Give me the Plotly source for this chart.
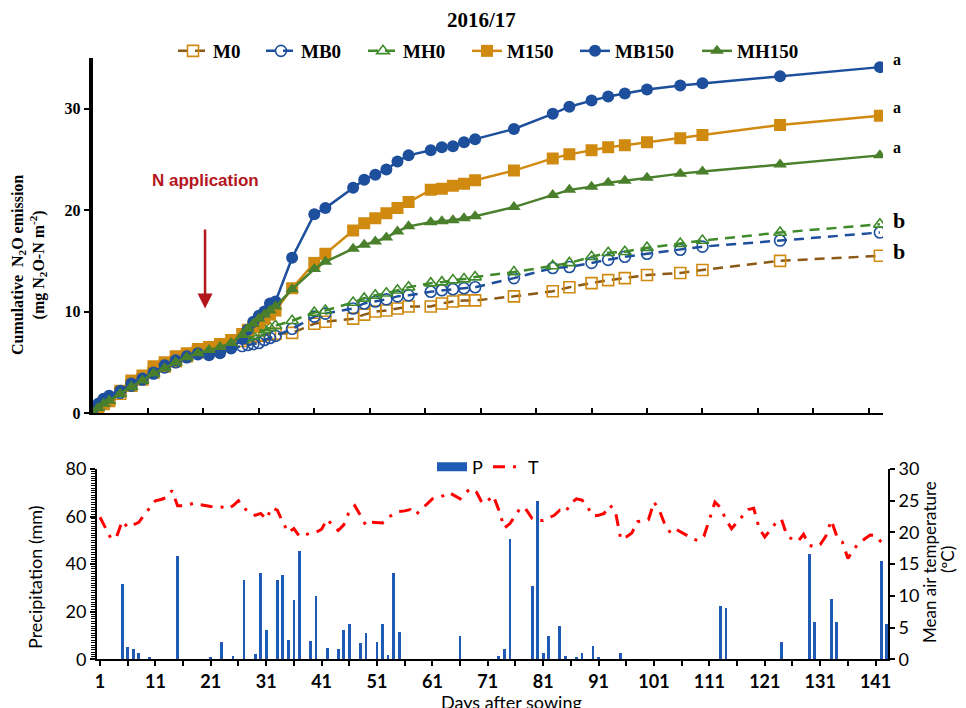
import plotly.graph_objects as go

# ---------------- data: cumulative N2O (top panel) ----------------
days = [0, 1, 2, 3, 5, 7, 9, 11, 13, 15, 17, 19, 21, 23, 25, 27, 28, 29, 30, 31, 32, 33, 36,
        40, 42, 47, 49, 51, 53, 55, 57, 61, 63, 65, 67, 69, 76, 83, 86, 90, 93, 96, 100,
        106, 110, 124, 142]

M0 = [0.1, 0.5, 0.9, 1.2, 1.9, 2.7, 3.3, 4.0, 4.6, 5.1, 5.6, 6.0, 6.2, 6.5, 6.8, 7.1, 7.3,
      7.5, 7.6, 7.7, 7.8, 7.8, 7.9, 8.8, 9.0, 9.3, 9.7, 10.0, 10.1, 10.3, 10.5, 10.5, 10.8,
      11.0, 11.1, 11.1, 11.5, 12.0, 12.4, 12.8, 13.1, 13.3, 13.6, 13.8, 14.1, 15.0, 15.5]
MB0 = [0.2, 0.6, 1.0, 1.3, 2.0, 2.7, 3.3, 3.9, 4.5, 5.0, 5.5, 5.8, 6.0, 6.2, 6.4, 6.6, 6.7,
       6.8, 6.9, 7.2, 7.4, 7.6, 8.3, 9.5, 9.8, 10.3, 10.8, 11.0, 11.2, 11.5, 11.6, 11.95,
       12.1, 12.2, 12.3, 12.4, 13.3, 14.3, 14.4, 14.8, 15.1, 15.4, 15.7, 16.1, 16.4, 17.0, 17.8]
MH0 = [0.1, 0.5, 0.9, 1.2, 1.9, 2.6, 3.2, 3.9, 4.5, 5.0, 5.5, 5.9, 6.2, 6.5, 6.8, 7.2, 7.4,
       7.6, 7.9, 8.2, 8.4, 8.6, 9.1, 9.9, 10.1, 10.9, 11.3, 11.6, 11.8, 12.1, 12.4, 12.8,
       12.9, 13.1, 13.2, 13.4, 13.9, 14.5, 14.8, 15.4, 15.8, 15.9, 16.3, 16.7, 17.0, 17.8, 18.6]
M150 = [0.2, 0.6, 1.0, 1.3, 2.2, 3.2, 3.7, 4.6, 5.0, 5.6, 5.9, 6.3, 6.5, 6.8, 7.2, 7.8, 8.2,
        8.5, 8.9, 9.3, 9.7, 10.1, 12.3, 14.8, 15.7, 18.0, 18.7, 19.2, 19.7, 20.2, 20.8, 22.0,
        22.1, 22.4, 22.6, 22.95, 23.9, 25.1, 25.5, 25.9, 26.2, 26.4, 26.7, 27.1, 27.4, 28.4, 29.3]
MB150 = [0.3, 0.9, 1.4, 1.7, 2.2, 2.9, 3.4, 4.0, 4.7, 5.2, 5.6, 5.9, 5.7, 5.9, 6.4, 7.3, 8.2,
         9.0, 9.6, 10.0, 10.8, 11.0, 15.3, 19.6, 20.2, 22.2, 23.0, 23.5, 24.0, 24.8, 25.4, 25.9,
         26.2, 26.3, 26.7, 27.0, 28.0, 29.5, 30.2, 30.8, 31.2, 31.5, 31.9, 32.3, 32.5, 33.2, 34.1]
MH150 = [0.1, 0.5, 0.9, 1.2, 1.9, 2.6, 3.2, 3.9, 4.4, 5.0, 5.5, 5.9, 6.2, 6.5, 6.9, 7.7, 8.3,
         8.8, 9.3, 9.7, 10.1, 10.5, 12.2, 14.2, 14.9, 16.2, 16.6, 16.9, 17.3, 17.9, 18.4, 18.8,
         18.9, 19.0, 19.2, 19.4, 20.3, 21.5, 22.0, 22.3, 22.7, 22.9, 23.2, 23.6, 23.8, 24.5, 25.4]

letters = ["a", "a", "a", "b", "b"]

# ---------------- data: weather (bottom panel) ----------------
p_days = [5, 6, 7, 8, 10, 15, 21, 23, 25, 27, 29, 30, 31, 33, 34, 35, 36, 37, 39, 40, 42, 44,
          45, 46, 48, 49, 51, 52, 53, 54, 55, 66, 73, 74, 75, 79, 80, 81, 82, 84, 85, 87, 88,
          90, 91, 95, 113, 114, 124, 129, 130, 133, 134, 142, 143]
p_mm = [31.8, 5.3, 4.2, 2.5, 1.1, 43.5, 0.8, 7.4, 1.5, 33.5, 2.2, 36.4, 12.3, 33.5, 35.6, 8.1,
        24.8, 45.7, 7.8, 26.5, 4.9, 4.2, 12.3, 14.8, 6.7, 11.1, 7.4, 14.8, 1.7, 36.4, 11.6, 9.9,
        1.5, 4.2, 50.6, 30.7, 66.4, 2.5, 9.9, 14.1, 1.5, 0.8, 2.5, 5.7, 1.1, 2.5, 22.3, 21.6,
        7.4, 44.2, 15.7, 25.5, 15.7, 41.3, 14.8]

t_days = list(range(1, 144))
t_mean = [22.4, 20.8, 19.0, 19.3, 21.8, 20.8, 21.2, 21.6, 22.8, 24.0,
          25.0, 25.2, 25.5, 26.6, 24.2, 24.2, 24.4, 24.6, 24.4, 24.2,
          24.1, 24.0, 24.0, 23.7, 24.2, 25.0, 23.8, 23.2, 22.7, 23.0,
          22.1, 23.9, 23.5, 21.6, 20.0, 20.6, 19.4, 19.6, 19.9, 20.0,
          20.5, 22.1, 21.1, 20.3, 21.2, 23.3, 24.2, 22.7, 21.1, 21.6,
          21.5, 21.5, 22.4, 22.9, 23.3, 23.4, 23.6, 22.8, 23.6, 24.5,
          25.3, 25.5, 25.8, 26.3, 25.8, 25.3, 26.3, 26.9, 26.3, 24.6,
          25.0, 25.8, 23.5, 20.7, 21.4, 22.7, 24.0, 23.5, 22.2, 21.9,
          21.9, 22.3, 22.7, 23.5, 23.2, 24.6, 25.3, 25.1, 24.0, 22.6,
          22.7, 23.0, 24.3, 23.5, 18.9, 19.3, 19.9, 21.7, 21.9, 22.0,
          24.8, 23.4, 21.2, 19.9, 20.5, 20.0, 19.5, 19.0, 18.7, 19.4,
          22.0, 24.8, 23.9, 22.0, 20.6, 21.6, 22.5, 23.6, 23.8, 20.6,
          19.3, 20.5, 21.5, 22.1, 19.5, 18.9, 18.6, 19.7, 18.0, 17.7,
          18.1, 19.4, 21.9, 19.4, 18.5, 15.9, 17.3, 18.3, 18.9, 19.6,
          19.5, 18.5, 17.8]

x_label_vals = list(range(1, 144, 10))

# ---------------- styling ----------------
# the page body has an 8px margin; the figure fills the rest of the 966x708 window
OFF = 8
W, H = 958, 700
SERIF = "Liberation Serif"
SANS = "Lato"
ORANGE = "#D08A10"
BROWN = "#8C5A14"
BLUE = "#1D4F9C"
GREEN0 = "#3F8A2B"
GREEN = "#4A7F2C"
RED = "#B3161B"


def fx(p):
    return (p - OFF) / W


def fy(p):
    return 1 - (p - OFF) / H


fig = go.Figure()

series = [
    ("M0", M0, BROWN, ORANGE, "square-open", "10px,7px", "legend"),
    ("MB0", MB0, BLUE, BLUE, "circle-open", "10px,7px", "legend2"),
    ("MH0", MH0, GREEN0, GREEN0, "triangle-up-open", "10px,7px", "legend3"),
    ("M150", M150, ORANGE, ORANGE, "square", "solid", "legend4"),
    ("MB150", MB150, BLUE, BLUE, "circle", "solid", "legend5"),
    ("MH150", MH150, GREEN, GREEN, "triangle-up", "solid", "legend6"),
]
for name, vals, lc, mc, sym, dash, lg in series:
    is_open = sym.endswith("open")
    fig.add_trace(go.Scatter(
        x=days, y=vals, name=name, mode="lines+markers", legend=lg,
        line=dict(color=lc, width=2.5, dash=dash),
        marker=dict(symbol=sym, size=11 if is_open else 12, color=mc,
                    line=dict(width=1.6 if is_open else 0, color=mc)),
        xaxis="x", yaxis="y",
    ))

# bottom panel
fig.add_trace(go.Bar(x=p_days, y=p_mm, width=0.5, marker=dict(color="#1F5BB5", line=dict(width=0)),
                     xaxis="x2", yaxis="y2", showlegend=False, name="P"))
fig.add_trace(go.Scatter(x=[None], y=[None], mode="lines", name="P", legend="legend7",
                         line=dict(color="#1F5BB5", width=9), xaxis="x2", yaxis="y2"))
fig.add_trace(go.Scatter(x=t_days, y=t_mean, mode="lines", name="T", legend="legend7",
                         line=dict(color="#FF0000", width=3, dash="12px,8px,3px,8px"),
                         xaxis="x2", yaxis="y3"))

leg_font = dict(family=SERIF, size=19, color="black", weight="bold")
leg_x = [178, 266, 368, 472, 580, 702]
legends = {}
for i, lx in enumerate(leg_x):
    key = "legend" if i == 0 else "legend%d" % (i + 1)
    legends[key] = dict(x=fx(lx - 5), y=fy(51), xanchor="left", yanchor="middle",
                        orientation="h", font=leg_font, bgcolor="rgba(0,0,0,0)",
                        borderwidth=0, itemwidth=30)
legends["legend7"] = dict(x=fx(432), y=fy(467), xanchor="left", yanchor="middle",
                          orientation="h", font=dict(family=SANS, size=18, color="black"),
                          bgcolor="rgba(0,0,0,0)", borderwidth=0, itemwidth=30)

C = dict(xanchor="center", yanchor="middle")
annotations = [
    dict(text="<b>2016/17</b>", x=fx(481), y=fy(20), xref="paper", yref="paper",
         showarrow=False, font=dict(family=SERIF, size=21, color="black"), **C),
    dict(text="<b>N application</b>", x=20.3, y=10.3, xref="x", yref="y",
         ax=0, ay=-128, showarrow=True, arrowhead=2, arrowsize=1.2, arrowwidth=2.5,
         arrowcolor=RED, startstandoff=38,
         font=dict(family="Liberation Sans", size=17, color=RED)),
    dict(text="<b>Cumulative  N<sub>2</sub>O emission<br>(mg N<sub>2</sub>O-N m<sup>-2</sup>)</b>",
         x=fx(29), y=fy(265), xref="paper", yref="paper", showarrow=False, textangle=-90,
         font=dict(family=SERIF, size=16, color="black"), **C),
    dict(text="Precipitation (mm)", x=fx(35), y=fy(577), xref="paper", yref="paper",
         showarrow=False, textangle=-90, font=dict(family=SANS, size=18, color="black"), **C),
    dict(text="Mean air temperature", x=fx(929), y=fy(562), xref="paper", yref="paper",
         showarrow=False, textangle=-90, font=dict(family=SANS, size=17, color="black"), **C),
    dict(text="(ºC)", x=fx(947), y=fy(560), xref="paper", yref="paper",
         showarrow=False, textangle=-90, font=dict(family=SANS, size=17, color="black"), **C),
    dict(text="Days after sowing", x=fx(511), y=fy(702), xref="paper", yref="paper",
         showarrow=False, font=dict(family=SANS, size=18, color="black"), **C),
]
letter_y = [MB150[-1], M150[-1], MH150[-1], MH0[-1], M0[-1]]
for i, (lt, yv) in enumerate(zip(letters, letter_y)):
    big = lt == "b"
    annotations.append(dict(text="<b>%s</b>" % lt, x=days[-1], y=yv + (0.4 if big else 0.8),
                            xref="x", yref="y", xshift=19 if big else 17, showarrow=False,
                            font=dict(family=SERIF, size=22 if big else 16, color="black"), **C))

fig.update_layout(
    width=W, height=H, margin=dict(l=0, r=0, t=0, b=0, autoexpand=False),
    paper_bgcolor="white", plot_bgcolor="white",
    bargap=0,
    xaxis=dict(domain=[fx(92.5), fx(883)], range=[0, 142.56], anchor="y", automargin=False,
               showline=True, linecolor="black", linewidth=2, ticks="inside", ticklen=5,
               tickwidth=2, tickcolor="black", tick0=0, dtick=10, showticklabels=False,
               showgrid=False, zeroline=False),
    yaxis=dict(domain=[fy(413), fy(58)], range=[0, 35], anchor="x", automargin=False,
               showline=True, linecolor="black", linewidth=3.5, ticks="outside", ticklen=5,
               tickwidth=2, tickcolor="black", tickvals=[0, 10, 20, 30], showgrid=False,
               zeroline=False, tickfont=dict(family=SERIF, size=16, color="black", weight="bold")),
    xaxis2=dict(domain=[fx(97), fx(888)], range=[0.46, 143.24], anchor="y2", automargin=False,
                showline=True, linecolor="black", linewidth=2, ticks="outside", ticklen=5,
                tickwidth=2, tickcolor="black", tickvals=x_label_vals,
                minor=dict(ticks="outside", tick0=1, dtick=5, ticklen=5, tickwidth=2,
                           tickcolor="black"),
                showgrid=False, zeroline=False,
                tickfont=dict(family=SANS, size=18, color="black", weight="bold")),
    yaxis2=dict(domain=[fy(659.3), fy(469)], range=[0, 80], anchor="x2", automargin=False,
                showline=True, linecolor="black", linewidth=2, ticks="outside", ticklen=5,
                tickwidth=2, tickcolor="black", dtick=20, showgrid=False, zeroline=False,
                minor=dict(ticks="outside", dtick=1, ticklen=4, tickwidth=1, tickcolor="black"),
                tickfont=dict(family=SANS, size=18, color="black")),
    yaxis3=dict(domain=[fy(659.3), fy(469)], range=[0, 30], anchor="x2", overlaying="y2",
                automargin=False,
                side="right", showline=True, linecolor="black", linewidth=2, ticks="outside",
                ticklen=5, tickwidth=2, tickcolor="black", dtick=5, showgrid=False,
                zeroline=False, tickfont=dict(family=SANS, size=18, color="black")),
    annotations=annotations,
    **legends,
)

fig.write_html("out.html")
